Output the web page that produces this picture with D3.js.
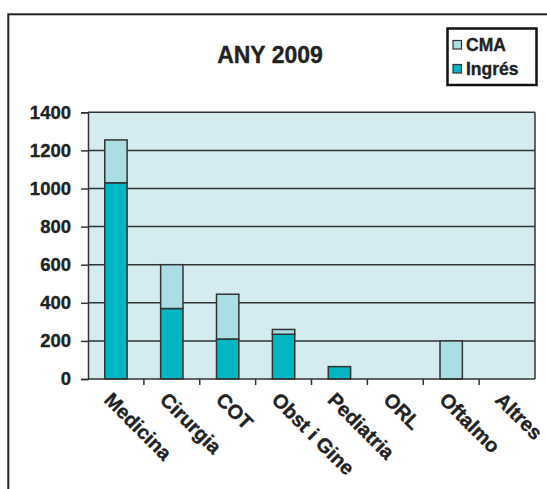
<!DOCTYPE html>
<html>
<head>
<meta charset="utf-8">
<script src="https://cdn.jsdelivr.net/npm/d3@7"></script>
<style>
  body { margin: 0; background: #fff; }
  text { font-family: "Liberation Sans", Arial, sans-serif; font-weight: bold; fill: #222; stroke: #222; stroke-width: 0.35px; }
</style>
</head>
<body>
<div id="chart"></div>
<script>
const categories = ["Medicina", "Cirurgia", "COT", "Obst i Gine", "Pediatria", "ORL", "Oftalmo", "Altres"];
const ingres = [1030, 370, 210, 235, 65, 0, 0, 0];
const cma = [225, 230, 235, 25, 0, 0, 200, 0];
const yTicks = [0, 200, 400, 600, 800, 1000, 1200, 1400];
const seriesNames = ["Ingrés", "CMA"];

const W = 547, H = 489;
const plot = { left: 88, top: 112.3, right: 535, bottom: 379 };
const colors = { "Ingrés": "#00b6c2", "CMA": "#aadde4" };

const svg = d3.select("#chart").append("svg")
    .attr("width", W)
    .attr("height", H);

// outer frame (runs off the right / bottom edge)
svg.append("rect")
    .attr("x", 8.3).attr("y", 14.3)
    .attr("width", 700).attr("height", 700)
    .attr("fill", "none")
    .attr("stroke", "#222")
    .attr("stroke-width", 2);

const x = d3.scaleBand()
    .domain(categories)
    .range([plot.left, plot.right])
    .paddingInner(0.6)
    .paddingOuter(0.3);

const xCell = d3.scaleBand()
    .domain(categories)
    .range([plot.left, plot.right]);

const y = d3.scaleLinear()
    .domain([0, 1400])
    .range([plot.bottom, plot.top]);

// plot background
svg.append("rect")
    .attr("x", plot.left).attr("y", plot.top)
    .attr("width", plot.right - plot.left)
    .attr("height", plot.bottom - plot.top)
    .attr("fill", "#d4ecf0");

// gridlines
svg.append("g")
    .selectAll("line")
    .data(yTicks.filter(d => d > 0))
    .join("line")
    .attr("x1", plot.left).attr("x2", plot.right)
    .attr("y1", d => y(d)).attr("y2", d => y(d))
    .attr("stroke", "#333")
    .attr("stroke-width", 1.5);

// right border of plot
svg.append("line")
    .attr("x1", plot.right).attr("x2", plot.right)
    .attr("y1", plot.top).attr("y2", plot.bottom)
    .attr("stroke", "#333")
    .attr("stroke-width", 1.5);

// stacked bars
const rows = categories.map((c, i) => ({ cat: c, "Ingrés": ingres[i], "CMA": cma[i] }));
const stacked = d3.stack().keys(seriesNames)(rows);

svg.append("g")
    .selectAll("g")
    .data(stacked)
    .join("g")
    .attr("fill", d => colors[d.key])
    .selectAll("rect")
    .data(d => d.filter(s => s[1] - s[0] > 0))
    .join("rect")
    .attr("x", d => x(d.data.cat))
    .attr("width", x.bandwidth())
    .attr("y", d => y(d[1]))
    .attr("height", d => y(d[0]) - y(d[1]))
    .attr("stroke", "#333")
    .attr("stroke-width", 1.5);

// y axis
const yAxis = svg.append("g")
    .attr("transform", `translate(${plot.left},0)`)
    .call(d3.axisLeft(y).tickValues(yTicks).tickSize(7).tickPadding(10).tickFormat(d3.format("d")));
yAxis.select(".domain").attr("stroke", "#333").attr("stroke-width", 1.5);
yAxis.selectAll(".tick line").attr("stroke", "#333").attr("stroke-width", 1.5);
yAxis.selectAll("text").style("font-size", "18.5px").attr("fill", "#222");

// x axis line and tick marks at category boundaries
svg.append("line")
    .attr("x1", plot.left).attr("x2", plot.right)
    .attr("y1", plot.bottom).attr("y2", plot.bottom)
    .attr("stroke", "#333")
    .attr("stroke-width", 1.5);

svg.append("g")
    .selectAll("line")
    .data(categories.slice(1))
    .join("line")
    .attr("x1", d => xCell(d)).attr("x2", d => xCell(d))
    .attr("y1", plot.bottom).attr("y2", plot.bottom + 6)
    .attr("stroke", "#333")
    .attr("stroke-width", 1.5);

// rotated category labels
svg.append("g")
    .selectAll("text")
    .data(categories)
    .join("text")
    .attr("transform", d => `translate(${xCell(d) + xCell.bandwidth() / 2 - 13},${plot.bottom + 22}) rotate(45)`)
    .style("font-size", "20px")
    .text(d => d);

// title
svg.append("text")
    .attr("x", 270)
    .attr("y", 63)
    .attr("text-anchor", "middle")
    .style("font-size", "23px")
    .text("ANY 2009");

// legend
const legend = svg.append("g");
legend.append("rect")
    .attr("x", 447.5).attr("y", 28.5)
    .attr("width", 89).attr("height", 56.5)
    .attr("fill", "#fff")
    .attr("stroke", "#111")
    .attr("stroke-width", 2.5);

const legendItems = ["CMA", "Ingrés"];
legendItems.forEach((k, i) => {
    legend.append("rect")
        .attr("x", 453).attr("y", 40.5 + i * 24)
        .attr("width", 8.5).attr("height", 8.5)
        .attr("fill", colors[k])
        .attr("stroke", "#333")
        .attr("stroke-width", 1.2);
    legend.append("text")
        .attr("x", 466).attr("y", 50.5 + i * 24)
        .style("font-size", "17.5px")
        .text(k);
});
</script>
</body>
</html>
